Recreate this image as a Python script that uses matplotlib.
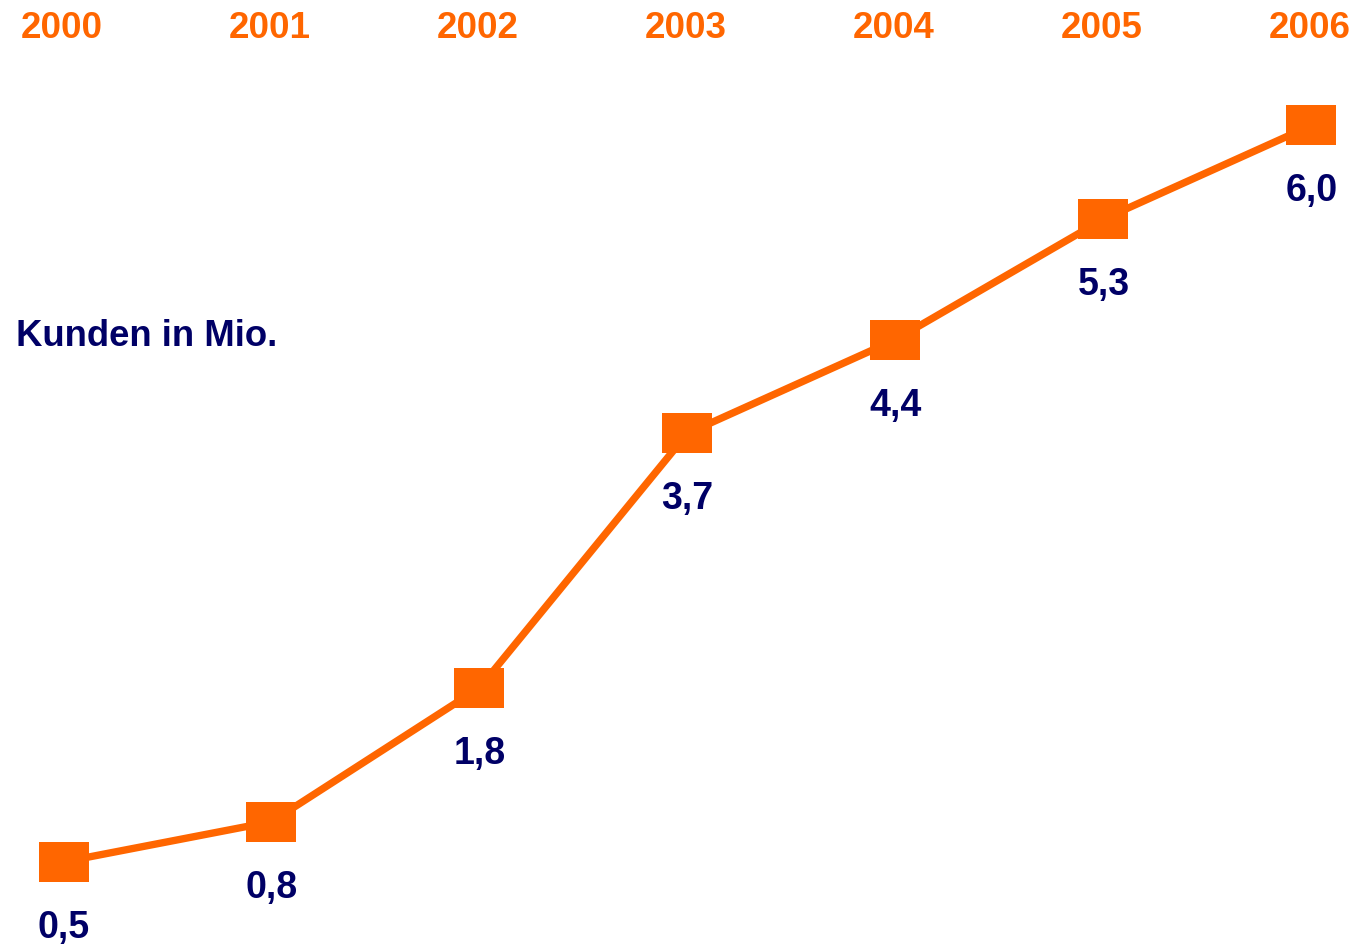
import matplotlib.pyplot as plt
from matplotlib.transforms import blended_transform_factory

plt.rcParams['font.family'] = ['Liberation Sans', 'DejaVu Sans']

orange = '#FF6600'
navy = '#000066'

# Daten
jahre = ['2000', '2001', '2002', '2003', '2004', '2005', '2006']
kunden = [0.5, 0.8, 1.8, 3.7, 4.4, 5.3, 6.0]
beschriftung = ['0,5', '0,8', '1,8', '3,7', '4,4', '5,3', '6,0']

fig = plt.figure(figsize=(13.51, 9.53), dpi=100)
ax = fig.add_axes([0, 0, 1, 1])
ax.axis('off')

x = list(range(len(jahre)))

# Rechteckige Marker (etwas breiter als hoch)
rect = [(-1, -0.816), (1, -0.816), (1, 0.816), (-1, 0.816), (-1, -0.816)]
ax.plot(x, kunden, color=orange, linewidth=5.3, marker=rect, markersize=35.3,
        markerfacecolor=orange, markeredgecolor=orange, markeredgewidth=0,
        solid_capstyle='butt')

ax.set_xlim(-0.3053, 6.19)
ax.set_ylim(-0.173, 6.944)

# Werte unter den Punkten
for xi, v, lab in zip(x, kunden, beschriftung):
    ax.annotate(lab, (xi, v), xytext=(0, -54), textcoords='offset points',
                ha='center', va='baseline', fontsize=27, fontweight='bold',
                color=navy)

# Jahreszahlen oben
trans = blended_transform_factory(ax.transData, fig.transFigure)
for xi, j in zip(x, jahre):
    ax.text(xi - 0.01, 1 - 38 / 953, j, transform=trans, ha='center', va='baseline',
            fontsize=26.5, fontweight='bold', color=orange)

fig.text(16 / 1351, 1 - 346 / 953, 'Kunden in Mio.', ha='left', va='baseline',
         fontsize=26.3, fontweight='bold', color=navy)

plt.savefig('out.png', dpi=100)
